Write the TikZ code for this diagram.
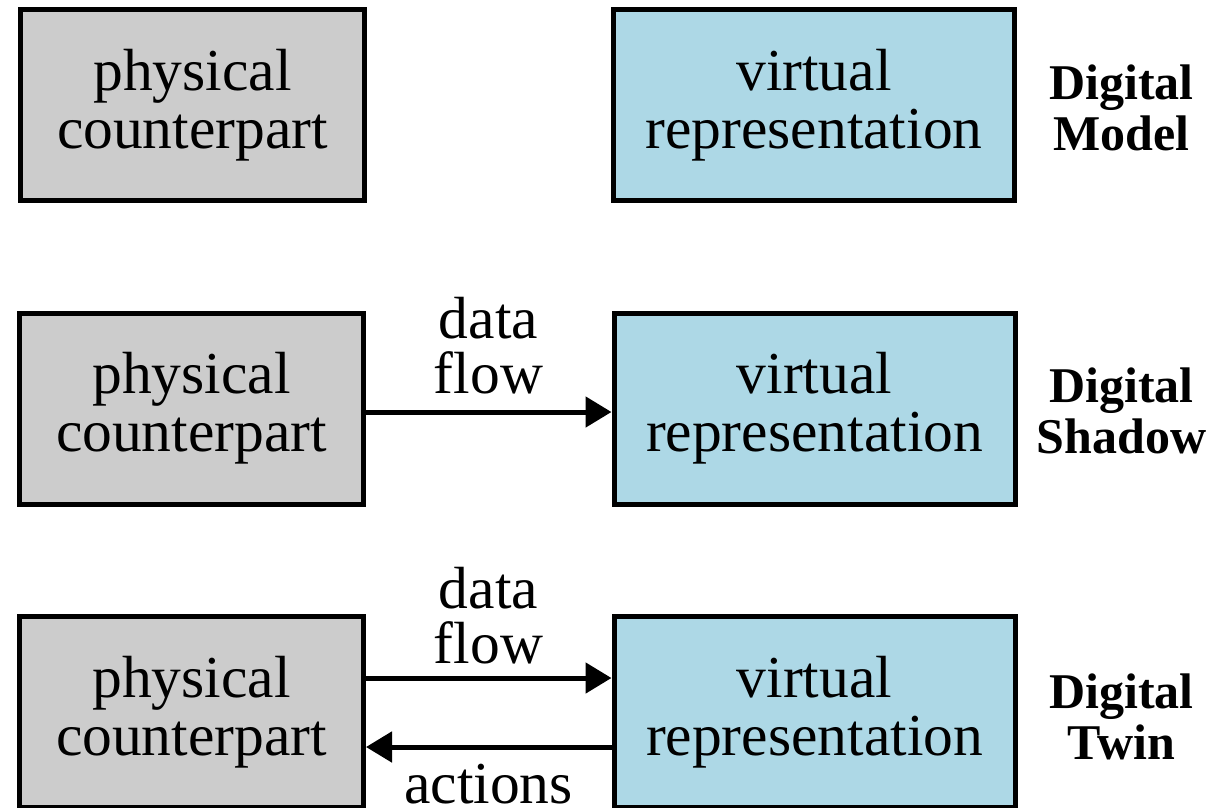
\documentclass[tikz,border=0pt]{standalone}
\usepackage{fontspec}
\setmainfont{Liberation Serif}
\usetikzlibrary{arrows.meta}
\definecolor{physgray}{HTML}{CCCCCC}
\definecolor{virtblue}{HTML}{ADD8E6}
\begin{document}
\begin{tikzpicture}[x=1pt,y=-1pt,
  box/.style={draw=black, line width=5pt, minimum height=191pt, inner sep=0pt, align=center, font=\fontsize{59.5}{58}\selectfont},
  phys/.style={box, fill=physgray, minimum width=344pt},
  virt/.style={box, fill=virtblue, minimum width=401pt},
  lbl/.style={align=center, font=\fontsize{59.5}{55}\selectfont, inner sep=0pt},
  kind/.style={align=center, font=\bfseries\fontsize{50}{51}\selectfont, inner sep=0pt},
  flowarrow/.style={line width=5pt, -{Triangle[length=26pt,width=30pt]}}
]
\useasboundingbox (0,0) rectangle (1226,807);
\clip (0,0) rectangle (1226,807);
% row 1
\node[phys] (p1) at (192.5,105) {physical\\counterpart};
\node[virt] (v1) at (814,105) {virtual\\representation};
\node[kind] (k1) at (1121.5,107.5) {Digital\\Model};
% row 2
\node[phys] (p2) at (191.5,408.5) {physical\\counterpart};
\node[virt] (v2) at (814.5,408.5) {virtual\\representation};
\node[kind] (k2) at (1121.5,411) {Digital\\Shadow};
\draw[flowarrow] ([yshift=-3.5pt]p2.east) -- ([yshift=-3.5pt]v2.west);
\node[lbl] (d2) at (488.5,345.5) {data\\flow};
% row 3
\node[phys] (p3) at (191.5,712) {physical\\counterpart};
\node[virt] (v3) at (814.5,712) {virtual\\representation};
\node[kind] (k3) at (1121.5,716.5) {Digital\\Twin};
\draw[flowarrow] ([yshift=34pt]p3.east) -- ([yshift=34pt]v3.west);
\draw[flowarrow] ([yshift=-35pt]v3.west) -- ([yshift=-35pt]p3.east);
\node[lbl] (d3) at (488.5,615.5) {data\\flow};
\node[lbl, anchor=base] (a3) at (488.5,803) {actions};
\end{tikzpicture}
\end{document}
